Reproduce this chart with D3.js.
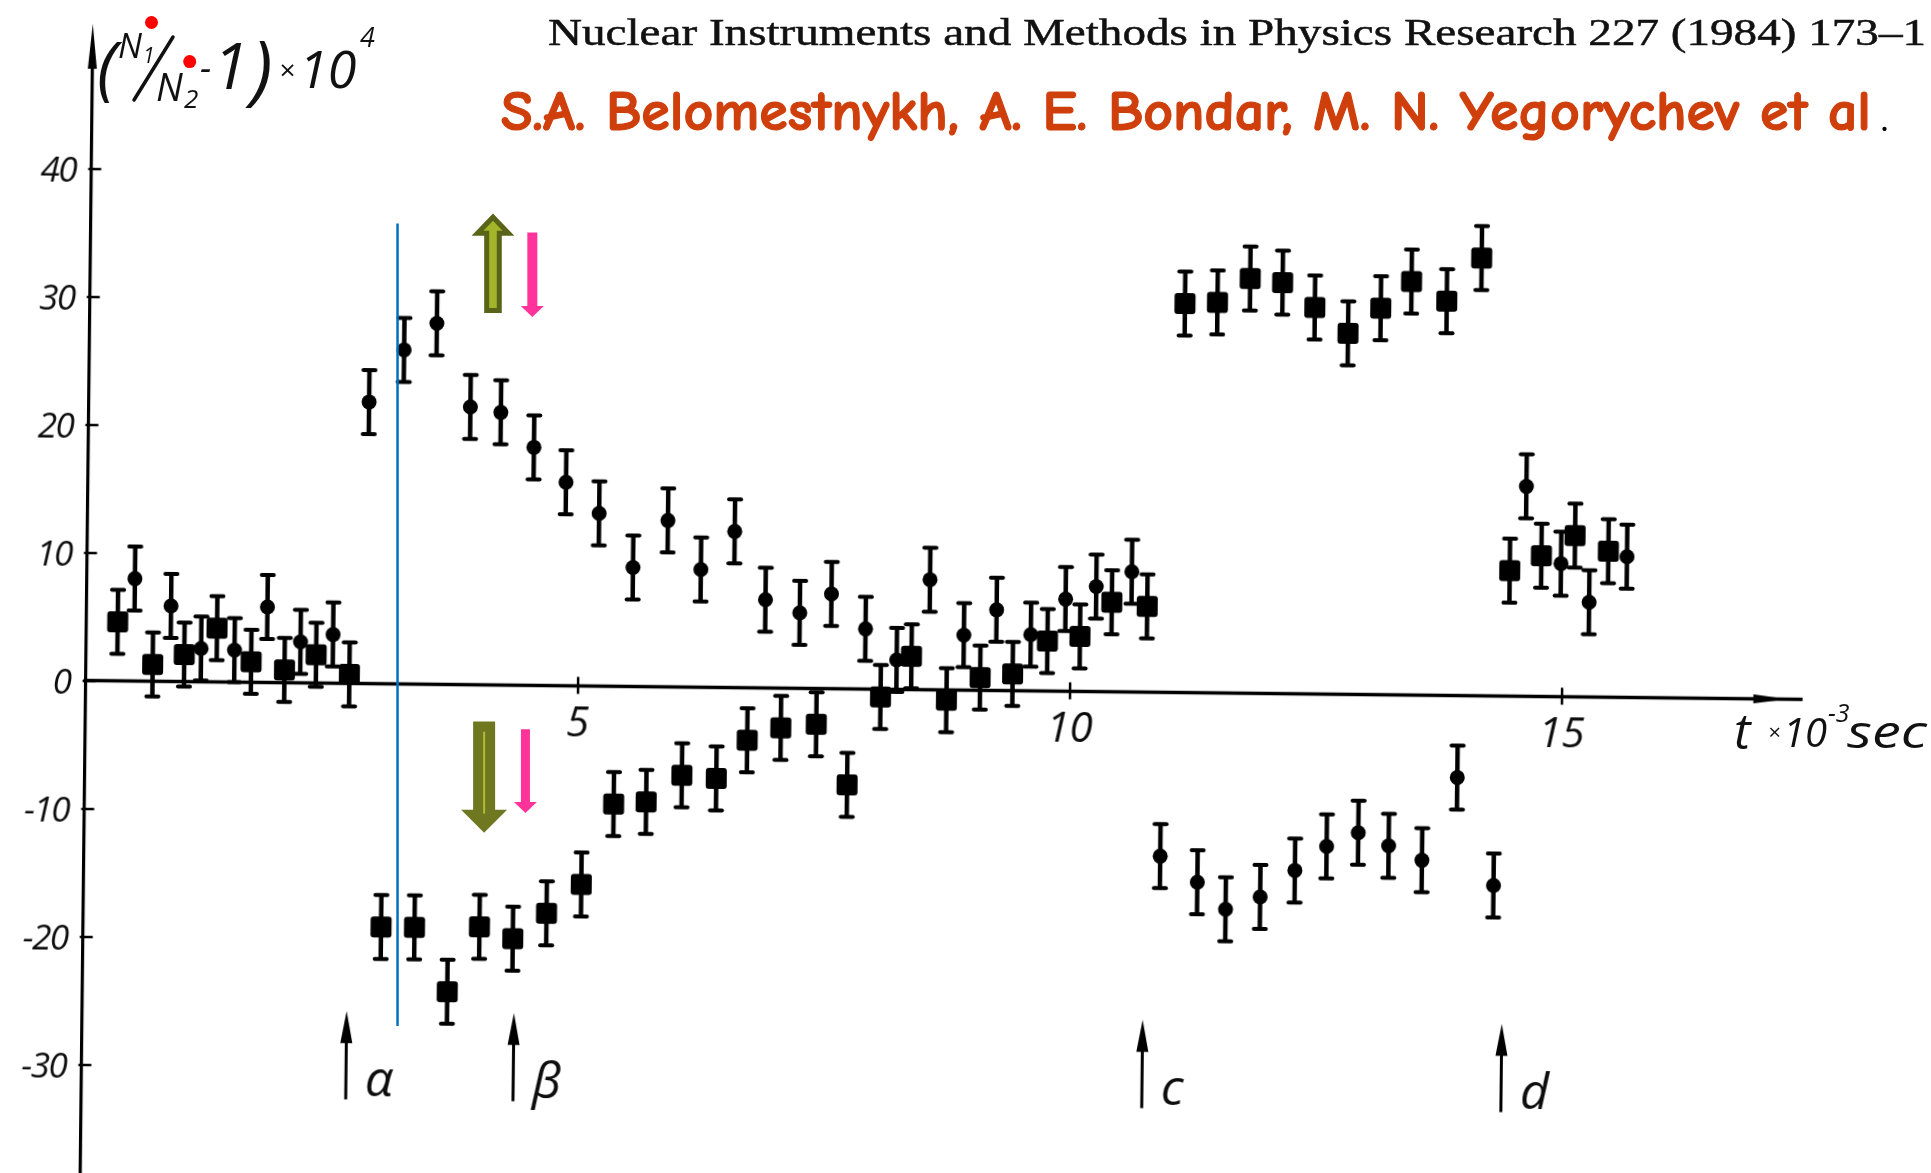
<!DOCTYPE html>
<html><head><meta charset="utf-8">
<script src="https://cdn.jsdelivr.net/npm/d3@7"></script>
<style>html,body{margin:0;padding:0;background:#fff;overflow:hidden}</style>
</head><body>
<svg id="c" width="1931" height="1173" xmlns="http://www.w3.org/2000/svg"></svg>
<script>
// ---------------- data (t in 10^-3 s, value = (N1/N2 - 1) x 10^4) ----------------
const squareT = [0.32,0.68,1.00,1.33,1.68,2.02,2.34,2.68,3.03,3.37,3.71,4.03,4.37,4.71,5.06,5.38,5.71,6.07,6.42,6.73,7.07,7.43,7.75,8.08,8.39,8.75,9.09,9.42,9.77,10.10,10.42,10.78,11.13,11.46,11.79,12.12,12.45,12.79,13.12,13.43,13.79,14.14,14.46,14.78,15.12,15.46];
const squareV = [4.6,1.3,2.1,4.2,1.6,1.0,2.2,0.7,-19.0,-19.0,-24.0,-18.9,-19.8,-17.8,-15.5,-9.2,-9.0,-6.9,-7.1,-4.1,-3.1,-2.8,-7.5,-0.6,2.6,-0.8,1.0,1.3,3.9,4.3,7.0,6.7,30.4,30.5,32.4,32.1,30.2,28.2,30.2,32.3,30.8,34.2,9.8,11.0,12.6,11.4];
const circleT = [0.49,0.86,1.17,1.51,1.84,2.18,2.51,2.85,3.20,3.53,3.88,4.19,4.53,4.86,5.20,5.55,5.90,6.24,6.58,6.90,7.25,7.57,7.92,8.24,8.57,8.92,9.25,9.60,9.95,10.26,10.62,10.94,11.32,11.61,11.96,12.31,12.63,12.95,13.26,13.60,13.95,14.33,14.62,14.98,15.27,15.65];
const circleV = [8.0,5.9,2.6,2.5,5.9,3.2,3.8,22.0,26.1,28.2,21.7,21.3,18.6,15.9,13.5,9.3,13.0,9.2,12.2,6.9,5.9,7.4,4.7,2.3,8.6,4.3,6.3,4.4,7.2,8.2,9.4,-12.8,-14.8,-16.9,-15.9,-13.8,-11.9,-10.8,-11.8,-12.9,-6.4,-14.8,16.4,10.4,7.4,11.0];
const errHalf = 2.5;
const xTicks = [5, 10, 15];
const yTicks = [-30, -20, -10, 0, 10, 20, 30, 40];
const eventLabels = ["α", "β", "c", "d"];
const eventT = [2.69, 4.39, 10.78, 14.43];
const markerLineT = 3.17;
const headerText = "Nuclear Instruments and Methods in Physics Research 227 (1984) 173–1";
const authorsText = "S.A. Belomestnykh, A. E. Bondar, M. N. Yegorychev et al";

// ---------------- layout ----------------
const svg = d3.select("#c");
const O = {x: 85.6, y: 680.5};
const xScale = d3.scaleLinear().domain([0, 15]).range([O.x, O.x + 98.4 * 15]);
const yScale = d3.scaleLinear().domain([0, 40]).range([O.y, O.y - 12.8 * 40]);
const hand = "'Open Sans', 'DejaVu Sans', sans-serif";

svg.append("rect").attr("width", 1931).attr("height", 1173).attr("fill", "#fff");
const defs = svg.append("defs");
defs.append("filter").attr("id", "scan").append("feGaussianBlur").attr("stdDeviation", 0.6);

// rotated group (scanned figure is slightly tilted)
const g = svg.append("g")
  .attr("transform", `rotate(0.63 ${O.x} ${O.y})`)
  .attr("filter", "url(#scan)");

// axes lines
g.append("line").attr("x1", O.x).attr("x2", O.x)
  .attr("y1", yScale(-40)).attr("y2", yScale(49))
  .attr("stroke", "#000").attr("stroke-width", 3.2);
g.append("path")
  .attr("d", `M${O.x},${yScale(51.3)} L${O.x - 4.5},${yScale(47.8)} L${O.x + 4.5},${yScale(47.8)} Z`)
  .attr("fill", "#000");
g.append("line").attr("x1", O.x - 2).attr("x2", xScale(17.45))
  .attr("y1", O.y).attr("y2", O.y)
  .attr("stroke", "#000").attr("stroke-width", 3.4);
g.append("path")
  .attr("d", `M${xScale(17.3)},${O.y} L${xScale(16.95)},${O.y - 4.5} L${xScale(16.95)},${O.y + 4.5} Z`)
  .attr("fill", "#000");

// x axis ticks and labels
const xa = g.append("g").attr("transform", `translate(0,${O.y})`)
  .call(d3.axisBottom(xScale).tickValues(xTicks).tickFormat(d3.format("d")));
xa.select(".domain").remove();
xa.selectAll(".tick line").attr("y1", -9).attr("y2", 8).attr("stroke", "#000").attr("stroke-width", 2.5);
xa.selectAll(".tick text").attr("y", 50).attr("dy", 0)
  .attr("font-family", hand).attr("font-style", "italic").attr("font-size", 42)
  .attr("fill", "#111").attr("text-anchor", "middle");

// y axis ticks and labels
const ya = g.append("g").attr("transform", `translate(${O.x},0)`)
  .call(d3.axisLeft(yScale).tickValues(yTicks).tickFormat(d => String(d)));
ya.select(".domain").remove();
ya.selectAll(".tick line").attr("x1", -3).attr("x2", 10).attr("stroke", "#000").attr("stroke-width", 2.5);
ya.selectAll(".tick text").attr("x", -15).attr("dy", "0.36em")
  .attr("font-family", hand).attr("font-style", "italic").attr("font-size", 35)
  .attr("letter-spacing", -1.5).attr("fill", "#111").attr("text-anchor", "end");

// data points
function drawSeries(T, V, kind) {
  const pts = T.map((t, i) => ({t, v: V[i]}));
  const eg = g.append("g");
  pts.forEach(p => {
    const x = xScale(p.t), y1 = yScale(p.v + errHalf), y2 = yScale(p.v - errHalf);
    eg.append("line").attr("x1", x).attr("x2", x).attr("y1", y1).attr("y2", y2)
      .attr("stroke", "#000").attr("stroke-width", 4.5);
    [y1, y2].forEach(yy => eg.append("line").attr("x1", x - 6).attr("x2", x + 6)
      .attr("y1", yy).attr("y2", yy).attr("stroke", "#000").attr("stroke-width", 4)
      .attr("stroke-linecap", "round"));
  });
  if (kind === "square") {
    eg.selectAll("rect.m").data(pts).enter().append("rect")
      .attr("x", d => xScale(d.t) - 10.5).attr("y", d => yScale(d.v) - 10.5)
      .attr("width", 21).attr("height", 21).attr("rx", 3).attr("fill", "#000");
  } else {
    eg.selectAll("circle.m").data(pts).enter().append("circle")
      .attr("cx", d => xScale(d.t)).attr("cy", d => yScale(d.v)).attr("r", 7.5).attr("fill", "#000");
  }
}
drawSeries(squareT, squareV, "square");
drawSeries(circleT, circleV, "circle");

// event arrows a, b, c, d
eventT.forEach((t, i) => {
  const x = xScale(t), yTip = yScale(-25.6), yBot = yScale(-32.5);
  g.append("line").attr("x1", x).attr("x2", x).attr("y1", yTip + 10).attr("y2", yBot)
    .attr("stroke", "#000").attr("stroke-width", 3);
  g.append("path").attr("d", `M${x},${yTip} L${x - 6},${yTip + 32} L${x + 6},${yTip + 32} Z`).attr("fill", "#000");
  g.append("text").attr("x", x + 19).attr("y", yScale(-32.2))
    .attr("font-family", hand).attr("font-style", "italic").attr("font-size", 50)
    .attr("fill", "#111").text(eventLabels[i]);
});

// x axis title  t x 10^-3 sec
const xt = svg.append("text").attr("fill", "#111").attr("font-family", hand).attr("font-style", "italic");
xt.append("tspan").attr("x", 1734).attr("y", 749).attr("font-size", 50).text("t");
xt.append("tspan").attr("x", 1768).attr("y", 740).attr("font-size", 22).text("×");
xt.append("tspan").attr("x", 1783).attr("y", 747).attr("font-size", 40).text("10");
xt.append("tspan").attr("x", 1828).attr("y", 722).attr("font-size", 25).text("-3");
xt.append("tspan").attr("x", 1847).attr("y", 748).attr("font-size", 46)
  .attr("textLength", 80).attr("lengthAdjust", "spacingAndGlyphs").text("sec");

// y axis title (N1/N2 - 1) x 10^4
const yt = svg.append("text").attr("fill", "#111").attr("font-family", hand).attr("font-style", "italic");
yt.append("tspan").attr("x", 97).attr("y", 92).attr("font-size", 70).text("(");
yt.append("tspan").attr("x", 118).attr("y", 58).attr("font-size", 34).text("N");
yt.append("tspan").attr("x", 143).attr("y", 63).attr("font-size", 21).text("1");
yt.append("tspan").attr("x", 156).attr("y", 101).attr("font-size", 38).text("N");
yt.append("tspan").attr("x", 184).attr("y", 108).attr("font-size", 26).text("2");
yt.append("tspan").attr("x", 200).attr("y", 80).attr("font-size", 36).text("-");
yt.append("tspan").attr("x", 213).attr("y", 89).attr("font-size", 64).text("1");
yt.append("tspan").attr("x", 251).attr("y", 96).attr("font-size", 76).text(")");
yt.append("tspan").attr("x", 279).attr("y", 80).attr("font-size", 28).text("×");
yt.append("tspan").attr("x", 299).attr("y", 88).attr("font-size", 52).text("10");
yt.append("tspan").attr("x", 360).attr("y", 47).attr("font-size", 27).text("4");
// fraction bar of N1/N2 (handwritten slash)
svg.append("line").attr("x1", 134).attr("y1", 100).attr("x2", 173).attr("y2", 37)
  .attr("stroke", "#111").attr("stroke-width", 3.5).attr("stroke-linecap", "round");
svg.append("circle").attr("cx", 151.5).attr("cy", 22.5).attr("r", 6.5).attr("fill", "#ff0000");
svg.append("circle").attr("cx", 189.7).attr("cy", 61.6).attr("r", 6.5).attr("fill", "#ff0000");

// header texts
svg.append("text").attr("x", 548).attr("y", 45)
  .attr("font-family", "'Liberation Serif', 'Times New Roman', serif").attr("font-size", 38)
  .attr("stroke", "#111").attr("stroke-width", 0.5)
  .attr("textLength", 1378).attr("lengthAdjust", "spacingAndGlyphs").attr("fill", "#111").text(headerText);
svg.append("text").attr("x", 501).attr("y", 130)
  .attr("font-family", "'Comic Sans MS', 'Comic Neue', 'Open Sans', sans-serif").attr("font-weight", "bold")
  .attr("font-size", 57).attr("textLength", 1370).attr("lengthAdjust", "spacingAndGlyphs")
  .attr("stroke", "#cf3f0c").attr("stroke-width", 1.2)
  .attr("fill", "#cf3f0c").text(authorsText);
svg.append("text").attr("x", 1880).attr("y", 131)
  .attr("font-family", "'Liberation Serif', serif").attr("font-size", 36).attr("fill", "#000").text(".");

// overlay: vertical blue marker line
svg.append("line").attr("x1", xScale(markerLineT)).attr("x2", xScale(markerLineT))
  .attr("y1", yScale(35.7)).attr("y2", yScale(-27.0))
  .attr("stroke", "#0070c0").attr("stroke-width", 2.5);

// overlay: coloured arrows
function blockArrow(t, vFrom, vTip, shaftW, headW, headL, fill, stroke, sw) {
  const x = xScale(t), y0 = yScale(vFrom), y1 = yScale(vTip);
  const dir = y1 > y0 ? 1 : -1;
  const yb = y1 - dir * headL;
  const d = `M${x - shaftW / 2},${y0} L${x + shaftW / 2},${y0} L${x + shaftW / 2},${yb} L${x + headW / 2},${yb} L${x},${y1} L${x - headW / 2},${yb} L${x - shaftW / 2},${yb} Z`;
  return svg.append("path").attr("d", d).attr("fill", fill)
    .attr("stroke", stroke || "none").attr("stroke-width", sw || 0).attr("stroke-linejoin", "miter");
}
// upper pair
blockArrow(4.14, 28.9, 36.2, 12.6, 31, 16, "#a3b52a", "#5a6418", 5);
blockArrow(4.54, 35.0, 28.4, 10, 23, 11, "#ff3399");
// lower pair
blockArrow(4.05, -3.2, -11.9, 22, 46, 23, "#6f7820");
svg.append("line").attr("x1", xScale(4.05)).attr("x2", xScale(4.05))
  .attr("y1", yScale(-4.0)).attr("y2", yScale(-10.4))
  .attr("stroke", "#aebd35").attr("stroke-width", 2);
blockArrow(4.47, -3.8, -10.35, 9, 23, 11, "#ff3399");
</script>
</body></html>
